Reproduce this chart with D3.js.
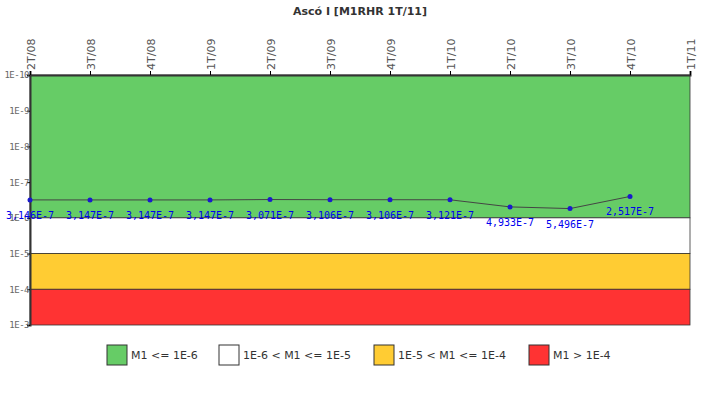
<!DOCTYPE html>
<html><head><meta charset="utf-8">
<script src="https://cdn.jsdelivr.net/npm/d3@7"></script>
<style>body{margin:0;background:#fff}text{font-family:"DejaVu Sans",sans-serif}</style>
</head><body><svg id="c" width="720" height="400"></svg>
<script>
// chart data
const categories = ['2T/08','3T/08','4T/08','1T/09','2T/09','3T/09','4T/09','1T/10','2T/10','3T/10','4T/10','1T/11']
const values = [3.146e-7,3.147e-7,3.147e-7,3.147e-7,3.071e-7,3.106e-7,3.106e-7,3.121e-7,4.933e-7,5.496e-7,2.517e-7]
const labels = ['3,146E-7','3,147E-7','3,147E-7','3,147E-7','3,071E-7','3,106E-7','3,106E-7','3,121E-7','4,933E-7','5,496E-7','2,517E-7']
const yTicks = [1e-10,1e-9,1e-8,1e-7,1e-6,1e-5,1e-4,1e-3]
const tickLabels = ['1E-10','1E-9','1E-8','1E-7','1E-6','1E-5','1E-4','1E-3']
const bands = [
  {from: 1e-10, to: 1e-6, color: '#66cc66', name: 'M1 <= 1E-6'},
  {from: 1e-6, to: 1e-5, color: '#ffffff', name: '1E-6 < M1 <= 1E-5'},
  {from: 1e-5, to: 1e-4, color: '#ffcc33', name: '1E-5 < M1 <= 1E-4'},
  {from: 1e-4, to: 1e-3, color: '#ff3333', name: 'M1 > 1E-4'}
]

const svg = d3.select('#c')
const L = 30, R = 690, T = 75, B = 325
const x = d3.scalePoint().domain(categories).range([L, R])
const y = d3.scaleLog().domain([1e-10, 1e-3]).range([T, B])

svg.append('text').attr('x', 360).attr('y', 15).attr('text-anchor', 'middle')
  .attr('font-size', 11).attr('font-weight', 'bold').attr('fill', '#333').text('Ascó I [M1RHR 1T/11]')

// bands
svg.selectAll('.band').data(bands).enter().append('rect')
  .attr('x', L).attr('width', R - L)
  .attr('y', d => y(d.from)).attr('height', d => y(d.to) - y(d.from))
  .attr('fill', d => d.color).attr('stroke', '#333').attr('stroke-width', 0.8)

// y axis
const ya = svg.append('g').attr('transform', `translate(${L},0)`)
  .call(d3.axisLeft(y).tickValues(yTicks).tickFormat((d, i) => tickLabels[i]).tickSize(3))
ya.selectAll('text').attr('font-size', 9).attr('fill', '#666').attr('x', -1)
  .style('font-family', 'DejaVu Sans Mono, monospace').style('letter-spacing', '-0.5px')
ya.select('.domain').attr('stroke', '#333').attr('stroke-width', 2)

// top axis
const xa = svg.append('g').attr('transform', `translate(0,${T})`)
  .call(d3.axisTop(x).tickSize(4))
xa.selectAll('text').attr('font-size', 11).attr('fill', '#555')
  .attr('transform', 'rotate(-90)').attr('x', 5).attr('y', 4).attr('dy', 0).attr('text-anchor', 'start')
xa.select('.domain').attr('stroke', '#333').attr('stroke-width', 2)

// line + points
const pts = values.map((v, i) => [x(categories[i]), y(v)])
svg.append('path').attr('d', d3.line()(pts)).attr('fill', 'none').attr('stroke', '#444').attr('stroke-width', 1)
svg.selectAll('.pt').data(pts).enter().append('circle')
  .attr('cx', d => d[0]).attr('cy', d => d[1]).attr('r', 2.5).attr('fill', '#1a1acc')
svg.selectAll('.lbl').data(pts).enter().append('text')
  .attr('x', d => d[0]).attr('y', d => d[1] + 19).attr('text-anchor', 'middle')
  .attr('font-size', 10).attr('fill', '#0000ee').style('font-family', 'DejaVu Sans Mono, monospace')
  .text((d, i) => labels[i])

// legend
const lx = [107, 219, 374, 529]
const lg = svg.selectAll('.lg').data(bands).enter().append('g')
  .attr('transform', (d, i) => `translate(${lx[i]},345)`)
lg.append('rect').attr('width', 20).attr('height', 20).attr('fill', d => d.color).attr('stroke', '#333')
lg.append('text').attr('x', 24).attr('y', 14).attr('font-size', 11).attr('fill', '#333').text(d => d.name)
</script></body></html>
